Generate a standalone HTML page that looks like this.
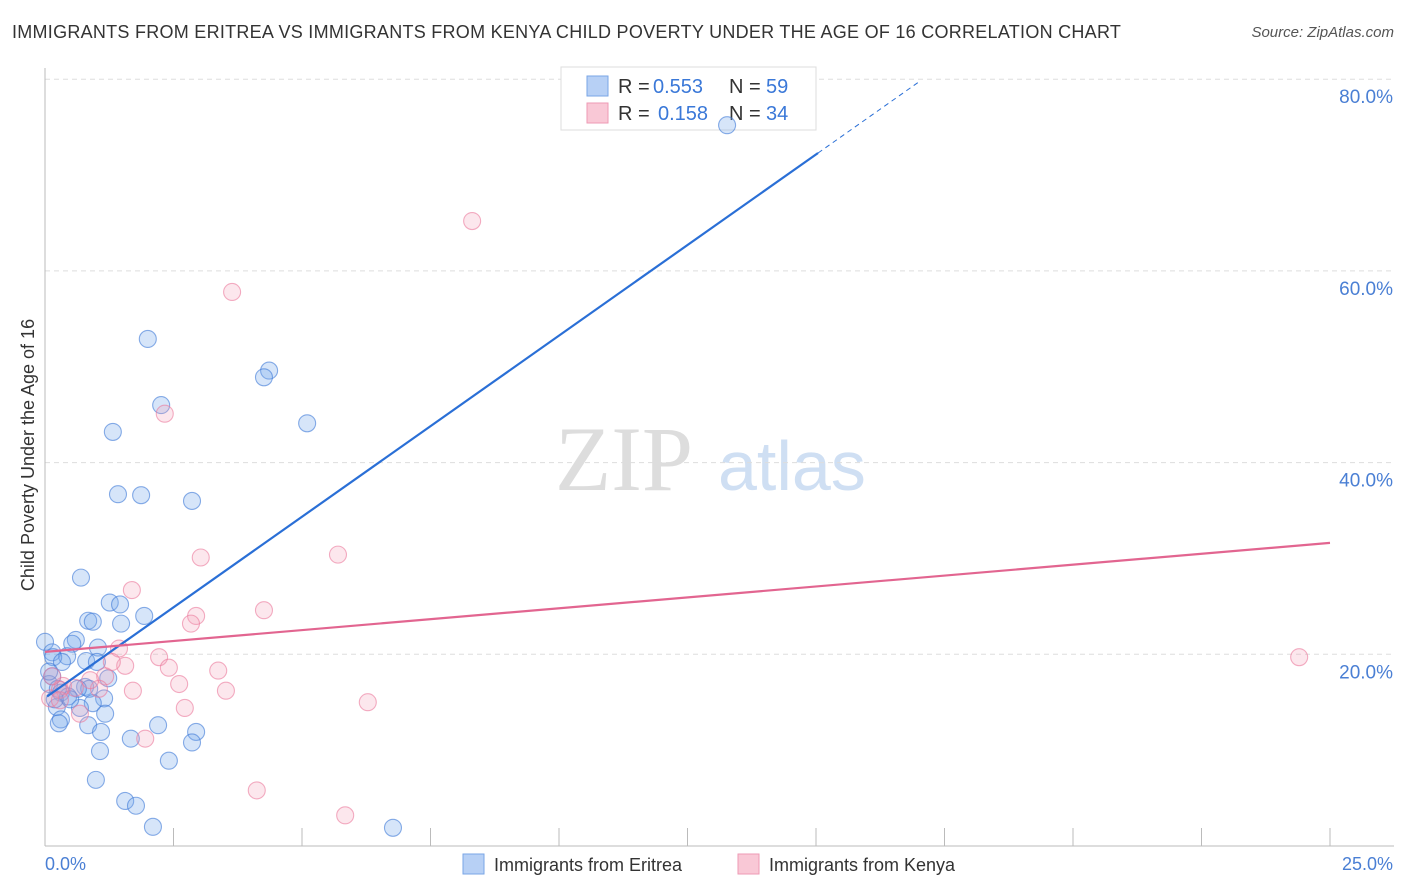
<!DOCTYPE html>
<html><head><meta charset="utf-8"><style>
body{margin:0;background:#fff;font-family:"Liberation Sans",sans-serif;}
#wrap{position:relative;width:1406px;height:892px;overflow:hidden;}
.title{position:absolute;left:12px;top:22px;font-size:18px;color:#333;letter-spacing:0.27px;}
.src{position:absolute;right:12px;top:24px;font-size:15px;color:#555;font-style:italic;}
</style></head><body>
<div id="wrap">
<div class="title">IMMIGRANTS FROM ERITREA VS IMMIGRANTS FROM KENYA CHILD POVERTY UNDER THE AGE OF 16 CORRELATION CHART</div>
<div class="src">Source: ZipAtlas.com</div>
<svg id="svg" width="1406" height="892" style="position:absolute;left:0;top:0"></svg>
</div>
<script>
const yTicks=[20,40,60,80];
const yTickLabels=["20.0%","40.0%","60.0%","80.0%"];
const xTickVals=[2.5,5,7.5,10,12.5,15,17.5,20,22.5,25];
const eritreaX=[13.27,2.0,4.36,4.26,2.26,5.1,1.32,1.42,1.87,2.86,0.7,1.26,1.46,1.93,0.84,0.93,1.48,0.6,0.53,0,1.03,0.14,0.43,0.16,0.8,1.01,0.33,0.14,1.23,0.08,0.25,0.78,0.86,0.31,0.64,0.45,1.15,0.93,0.23,0.68,1.17,0.31,0.27,0.84,2.2,2.94,1.09,1.67,2.86,1.07,2.41,0.99,1.56,1.77,2.1,6.77,0.08,0.49,0.19];
const eritreaY=[75.2,52.9,49.6,48.9,46.0,44.1,43.2,36.7,36.6,36.0,28.0,25.4,25.2,24.0,23.5,23.4,23.2,21.5,21.1,21.3,20.7,20.2,19.8,19.7,19.3,19.2,19.2,17.7,17.5,16.9,16.4,16.6,16.4,16.0,16.4,15.6,15.4,14.9,14.5,14.4,13.8,13.2,12.8,12.6,12.6,11.9,11.9,11.2,10.8,9.9,8.9,6.9,4.7,4.2,2.0,1.9,18.2,15.3,15.3];
const kenyaX=[8.31,3.64,2.33,3.03,5.7,1.69,4.26,2.94,2.84,1.44,2.22,1.56,1.3,2.41,3.37,1.17,1.71,2.61,3.52,1.05,0.35,0.58,0.29,6.28,2.72,0.68,1.95,4.12,5.84,24.4,0.14,0.88,0.1,0.29];
const kenyaY=[65.2,57.8,45.1,30.1,30.4,26.7,24.6,24.0,23.2,20.6,19.7,18.8,19.2,18.6,18.3,17.7,16.2,16.9,16.2,16.4,16.7,16.5,16.3,15.0,14.4,13.8,11.2,5.8,3.2,19.7,17.7,17.3,15.4,15.2];
const eritreaTrend=[15.45,3.78];   // intercept %, slope per %
const kenyaTrend=[20.25,0.455];
const svg=document.getElementById('svg');const NS='http://www.w3.org/2000/svg';
const X=v=>45+v/25*1285, Y=v=>846-v/20*191.7;
function mk(t,a,p){const e=document.createElementNS(NS,t);for(const k in a)e.setAttribute(k,a[k]);(p||svg).appendChild(e);return e;}
let w=mk('text',{x:555,y:490,'font-size':92,'font-family':'Liberation Serif,serif',fill:'#ddd'});w.textContent='ZIP';


let w2=mk('text',{x:718,y:490,'font-size':70,'font-family':'Liberation Sans,sans-serif',fill:'#cfdff3'});w2.textContent='atlas';


yTicks.forEach((v,i)=>{const g=mk('line',{x1:45,x2:1394,y1:Y(v),y2:Y(v),stroke:'#ddd','stroke-dasharray':'5,4'});


const t=mk('text',{x:1393,y:Y(v)+24,'text-anchor':'end','font-size':19,fill:'#4a7fd4'});t.textContent=yTickLabels[i];

});
mk('line',{x1:45,x2:45,y1:68,y2:846,stroke:'#bbb'});
mk('line',{x1:45,x2:1394,y1:846,y2:846,stroke:'#bbb'});
xTickVals.forEach(v=>{const l=mk('line',{x1:X(v),x2:X(v),y1:828,y2:846,stroke:'#bbb'});

});
let t0=mk('text',{x:45,y:870,'font-size':18,fill:'#4a7fd4'});t0.textContent='0.0%';


let t1=mk('text',{x:1393,y:870,'text-anchor':'end','font-size':18,fill:'#4a7fd4'});t1.textContent='25.0%';


let yt=mk('text',{x:34,y:455,'font-size':18,fill:'#333','text-anchor':'middle',transform:'rotate(-90 34 455)'});yt.textContent='Child Poverty Under the Age of 16';


// legend box (under points)
let lb=mk('rect',{x:561,y:67,width:255,height:63,fill:'#fff',stroke:'#ddd'});


mk('rect',{x:587,y:76,width:21,height:20,fill:'#b7d0f5',stroke:'#7aa6e6'});
mk('rect',{x:587,y:103,width:21,height:20,fill:'#f9c8d6',stroke:'#ee9ab4'});
function tx(x,y,s,c,n){const t=mk('text',{x:x,y:y,'font-size':20,fill:c});t.textContent=s;

}
tx(618,93,'R =','#333','legend-r-label');tx(653,93,'0.553','#3a78d8','legend-r-eritrea');
tx(729,93,'N =','#333','legend-n-label');tx(766,93,'59','#3a78d8','legend-n-eritrea');
tx(618,120,'R =','#333','legend-r-label');tx(658,120,'0.158','#3a78d8','legend-r-kenya');
tx(729,120,'N =','#333','legend-n-label');tx(766,120,'34','#3a78d8','legend-n-kenya');
function pts(xs,ys,fill,stroke,name){xs.forEach((x,i)=>{const c=mk('circle',{cx:X(x),cy:Y(ys[i]),r:8.5,fill:fill,stroke:stroke,'stroke-width':1.1});

});}
pts(eritreaX,eritreaY,'rgba(120,170,235,0.3)','rgba(60,120,215,0.6)','point-eritrea');
pts(kenyaX,kenyaY,'rgba(245,160,185,0.25)','rgba(235,120,155,0.6)','point-kenya');
const xe=15.04,xd=17.0;
let bl=mk('line',{x1:X(0.04),y1:Y(eritreaTrend[0]+eritreaTrend[1]*0.04),x2:X(xe),y2:Y(eritreaTrend[0]+eritreaTrend[1]*xe),stroke:'#2a6fd6','stroke-width':2.2});


let bd=mk('line',{x1:X(xe),y1:Y(eritreaTrend[0]+eritreaTrend[1]*xe),x2:X(xd),y2:Y(eritreaTrend[0]+eritreaTrend[1]*xd),stroke:'#2a6fd6','stroke-width':1,'stroke-dasharray':'5,4'});


let pl=mk('line',{x1:X(0),y1:Y(kenyaTrend[0]),x2:X(25),y2:Y(kenyaTrend[0]+kenyaTrend[1]*25),stroke:'#e26590','stroke-width':2.2});


mk('rect',{x:463,y:854,width:21,height:20,fill:'#b7d0f5',stroke:'#7aa6e6'});
mk('rect',{x:738,y:854,width:21,height:20,fill:'#f9c8d6',stroke:'#ee9ab4'});
function lt(x,s,n){const t=mk('text',{x:x,y:871,'font-size':18,fill:'#333'});t.textContent=s;

}
lt(494,'Immigrants from Eritrea','legend-entry-eritrea');lt(769,'Immigrants from Kenya','legend-entry-kenya');
</script>
</body></html>
